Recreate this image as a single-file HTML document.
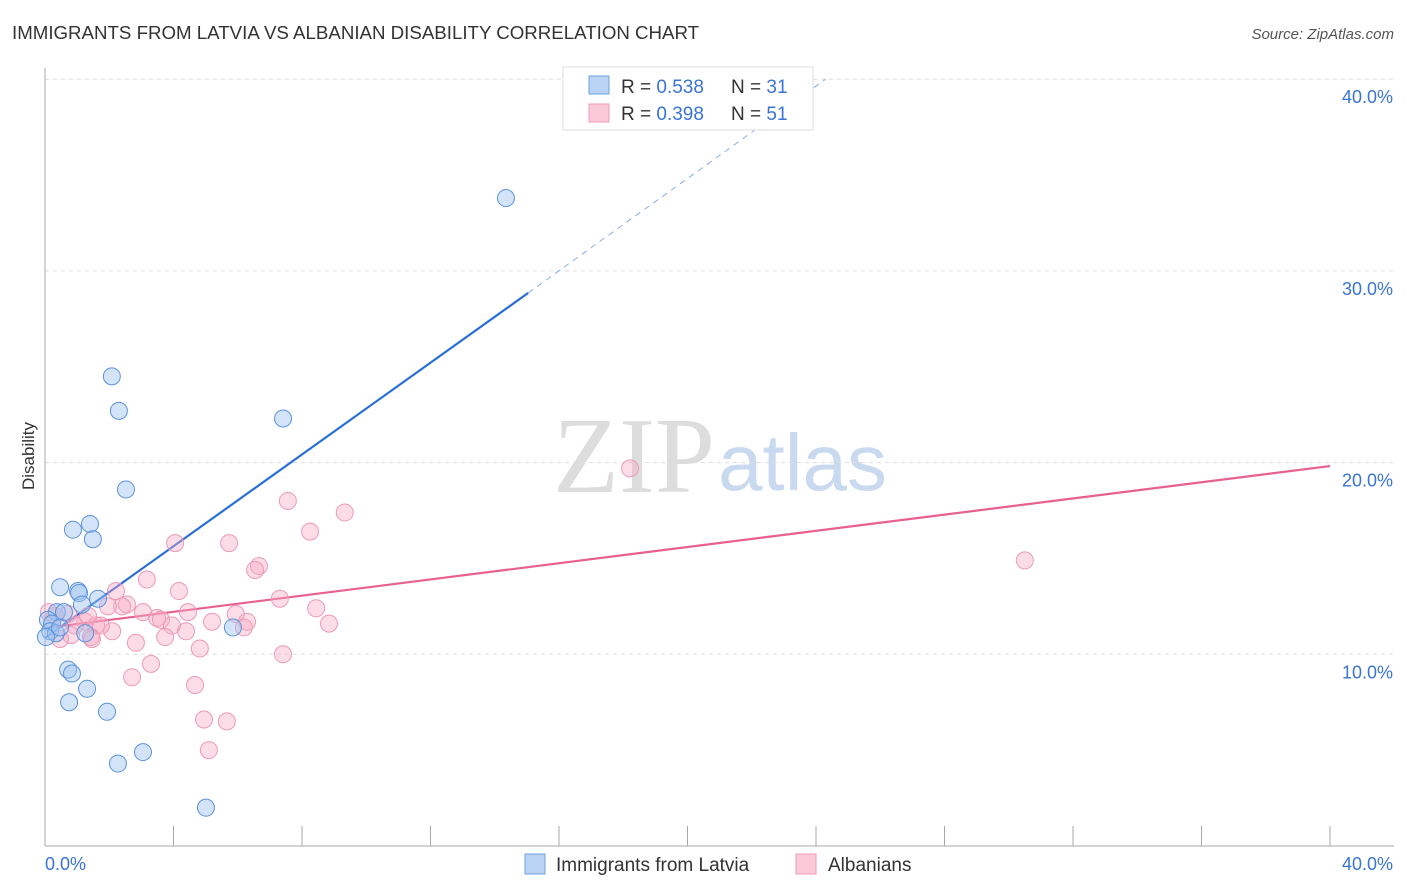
<!DOCTYPE html>
<html><head><meta charset="utf-8"><style>
body{margin:0;background:#fff;font-family:"Liberation Sans",sans-serif;}
#c{position:relative;width:1406px;height:892px;overflow:hidden}
</style></head><body>
<div id="c">
<svg id="s" width="1406" height="892" xmlns="http://www.w3.org/2000/svg">
<text x="12" y="39" font-size="18.7" fill="#333">IMMIGRANTS FROM LATVIA VS ALBANIAN DISABILITY CORRELATION CHART</text>
<text x="1394" y="39" font-size="15" fill="#555" text-anchor="end" font-style="italic">Source: ZipAtlas.com</text>
<text x="34" y="456" font-size="17" fill="#333" text-anchor="middle" transform="rotate(-90 34 456)">Disability</text>
<text x="553" y="492" font-size="108" fill="#ddd" font-family="Liberation Serif,serif">ZIP</text>
<text x="718" y="490" font-size="80" fill="#c9d9ef">atlas</text>
<g id="grid"></g><g id="axes"></g><g id="trend"></g><g id="pts"></g>
<g>
<rect x="563" y="67" width="250" height="63" fill="#fff" stroke="#ddd"/>
<rect x="589" y="76" width="20" height="18" fill="#b9d3f5" stroke="#6fa0e0"/>
<rect x="589" y="104" width="20" height="18" fill="#fbc9d8" stroke="#ec9ab5"/>
<text x="621" y="93" font-size="19" fill="#333">R = <tspan fill="#3a74d4">0.538</tspan></text>
<text x="731" y="93" font-size="19" fill="#333">N = <tspan fill="#3a74d4">31</tspan></text>
<text x="621" y="120" font-size="19" fill="#333">R = <tspan fill="#3a74d4">0.398</tspan></text>
<text x="731" y="120" font-size="19" fill="#333">N = <tspan fill="#3a74d4">51</tspan></text>
</g>
<g>
<rect x="525" y="854" width="20" height="20" fill="#b9d3f5" stroke="#6fa0e0"/>
<text x="556" y="871" font-size="19" fill="#333">Immigrants from Latvia</text>
<rect x="796" y="854" width="20" height="20" fill="#fbc9d8" stroke="#ec9ab5"/>
<text x="828" y="871" font-size="19" fill="#333">Albanians</text>
</g>
</svg>
</div>
<script>
const yTicks=[10,20,30,40];
const yTickLabels=["10.0%","20.0%","30.0%","40.0%"];
const xTickLabels=["0.0%","40.0%"];
const latviaX=[14.35,2.08,2.30,7.41,2.52,0.87,1.40,1.49,0.47,1.03,1.06,1.65,1.15,0.37,0.59,0.09,0.22,0.16,0.34,0.47,0.03,1.25,5.85,0.72,0.84,1.31,0.75,1.93,3.05,2.27,5.01];
const latviaY=[33.8,24.5,22.7,22.3,18.6,16.5,16.8,16.0,13.5,13.3,13.2,12.9,12.6,12.2,12.2,11.8,11.6,11.2,11.1,11.4,10.9,11.1,11.4,9.2,9.0,8.2,7.5,7.0,4.9,4.3,2.0];
const albX=[18.21,30.50,7.56,9.33,8.25,4.05,5.73,6.66,6.54,3.17,4.17,7.31,2.21,2.55,2.40,1.96,8.44,4.45,5.94,3.05,3.49,3.61,5.20,6.29,6.19,3.95,4.39,2.09,8.84,1.25,0.93,1.59,1.74,0.31,0.12,0.72,1.43,1.46,2.83,3.74,7.41,4.82,3.30,2.71,4.67,4.95,5.66,5.10,0.81,0.47,1.34];
const albY=[19.7,14.9,18.0,17.4,16.4,15.8,15.8,14.6,14.4,13.9,13.3,12.9,13.3,12.6,12.5,12.5,12.4,12.2,12.1,12.2,11.9,11.8,11.7,11.7,11.4,11.5,11.2,11.2,11.6,11.7,11.5,11.5,11.5,12.0,12.2,12.1,10.9,10.8,10.6,10.9,10.0,10.3,9.5,8.8,8.4,6.6,6.5,5.0,11.0,10.8,12.0];
const latviaTrend=[[0,10.85],[15.04,28.85]];
const latviaDash=[[15.04,28.85],[24.3,40.0]];
const albTrend=[[0,11.37],[40,19.82]];
const X=v=>45+v/40*1285, Y=v=>846-v/10*191.7;
const NS="http://www.w3.org/2000/svg";
function mk(t,p,a){const e=document.createElementNS(NS,t);for(const k in a)e.setAttribute(k,a[k]);p.appendChild(e);return e;}
const grid=document.getElementById('grid'),axes=document.getElementById('axes'),tr=document.getElementById('trend'),pts=document.getElementById('pts');
yTicks.forEach((t,i)=>{
 const l=mk('line',grid,{x1:45,x2:1394,y1:Y(t),y2:Y(t),stroke:'#ddd','stroke-dasharray':'4,4'});
 
 
 const tx=mk('text',axes,{x:1393,y:Y(t)+24,'font-size':18,fill:'#3a74d4','text-anchor':'end'});
 tx.textContent=yTickLabels[i];
 
 
});
const ax=mk('line',axes,{x1:45,x2:45,y1:68,y2:846,stroke:'#aaa'});


const bx=mk('line',axes,{x1:45,x2:1394,y1:846,y2:846,stroke:'#aaa'});


for(let i=1;i<=10;i++){const t=mk('line',axes,{x1:X(i*4),x2:X(i*4),y1:826,y2:846,stroke:'#aaa'});
 
 }
[[45,'start',xTickLabels[0]],[1393,'end',xTickLabels[1]]].forEach(a=>{const t=mk('text',axes,{x:a[0],y:870,'font-size':18,fill:'#3a74d4','text-anchor':a[1]});t.textContent=a[2];
 
 });
function ln(d,c,dash,name){const l=mk('line',tr,{x1:X(d[0][0]),y1:Y(d[0][1]),x2:X(d[1][0]),y2:Y(d[1][1]),stroke:c,'stroke-width':dash?1:2.2});if(dash)l.setAttribute('stroke-dasharray','6,5');
 
 }
ln(latviaTrend,'#2a6fd6',false,'latvia-trendline');
ln(latviaDash,'#8aaee0',true,'latvia-trendline-extension');
ln(albTrend,'#e8608c',false,'albanians-trendline');
albX.forEach((x,i)=>{const c=mk('circle',pts,{cx:X(x),cy:Y(albY[i]),r:8.5,fill:'rgba(247,170,195,0.4)',stroke:'#ec9ab5','stroke-width':1});
 
 });
latviaX.forEach((x,i)=>{const c=mk('circle',pts,{cx:X(x),cy:Y(latviaY[i]),r:8.5,fill:'rgba(160,196,240,0.45)',stroke:'#5b92dc','stroke-width':1});
 
 });
</script>
</body></html>
